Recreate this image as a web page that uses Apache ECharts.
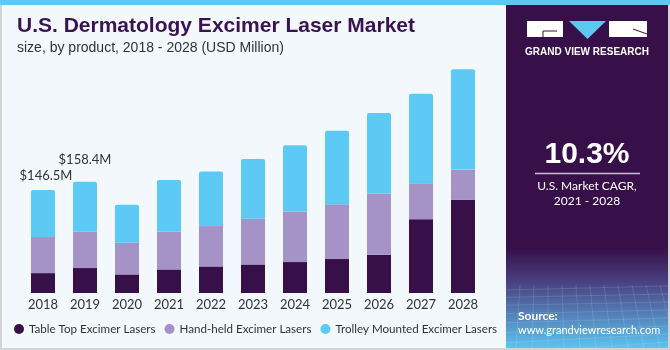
<!DOCTYPE html>
<html>
<head>
<meta charset="utf-8">
<script src="https://cdn.jsdelivr.net/npm/echarts@6/dist/echarts.min.js"></script>
<style>
html, body { margin: 0; padding: 0; background: #f3f8fc; }
#chart { width: 670px; height: 350px; }
</style>
</head>
<body>
<div id="chart"></div>
<script>
// years on the x axis
var years = ['2018', '2019', '2020', '2021', '2022', '2023', '2024', '2025', '2026', '2027', '2028'];
// USD Million
var tableTop = [28.3, 35.5, 26.4, 33.5, 37.8, 40.6, 44.0, 48.3, 54.4, 105.0, 132.5];
var handHeld = [51.3, 52.0, 45.0, 54.0, 57.4, 64.9, 71.9, 78.1, 87.0, 51.1, 43.0];
var trolley = [66.9, 70.9, 54.0, 73.4, 77.5, 85.2, 94.3, 104.5, 114.6, 127.2, 142.6];
// totals written above the first two bars
var totalLabels = ['$146.5M', '$158.4M'];

var seriesNames = ['Table Top Excimer Lasers', 'Hand-held Excimer Lasers', 'Trolley Mounted Excimer Lasers'];
var colors = ['#37104a', '#a592c6', '#5dcaf5'];

var FONT = 'Lato, "Liberation Sans", Arial, sans-serif';
var FONT_W = '"Liberation Sans", Arial, sans-serif';

var myChart = echarts.init(document.getElementById('chart'), null, { renderer: 'canvas' });

// top bar gets the two total labels
var trolleyData = trolley.map(function (v, i) {
	if (i >= totalLabels.length) return v;
	return {
		value: v,
		label: {
			show: true,
			position: 'top',
			formatter: totalLabels[i],
			distance: i === 0 ? 8 : 15,
			offset: [i === 0 ? 3 : 0, 0],
			color: '#333333',
			fontSize: 13,
			fontFamily: FONT
		}
	};
});

// faint grid lines in the bottom of the side panel
var panelGrid = [];
for (var k = 0; k < 12; k++) {
	panelGrid.push({
		type: 'line',
		shape: { x1: 506 + k * 14, y1: 285, x2: 500 + k * 16, y2: 348 },
		style: { stroke: 'rgba(255,255,255,0.12)', lineWidth: 1 }
	});
}
for (var j = 0; j < 8; j++) {
	panelGrid.push({
		type: 'line',
		shape: { x1: 506, y1: 290 + j * 7 + j * j * 0.3, x2: 668, y2: 286 + j * 8 },
		style: { stroke: 'rgba(255,255,255,0.12)', lineWidth: 1 }
	});
}

var option = {
	backgroundColor: '#f3f8fc',
	animation: false,
	title: [{
		text: 'U.S. Dermatology Excimer Laser Market',
		left: 17,
		top: 16,
		padding: 0,
		textStyle: { fontSize: 21, fontWeight: 'bold', color: '#3a1450', fontFamily: FONT_W }
	}, {
		text: 'size, by product, 2018 - 2028 (USD Million)',
		left: 17,
		top: 41,
		padding: 0,
		textStyle: { fontSize: 14, fontWeight: 'normal', color: '#333333', fontFamily: FONT_W }
	}],
	legend: {
		data: seriesNames,
		left: 9,
		top: 318,
		icon: 'circle',
		itemWidth: 10,
		itemHeight: 10,
		itemGap: 9,
		textStyle: { fontSize: 11.6, color: '#333333', fontFamily: FONT }
	},
	grid: { left: 22, right: 186, top: 61, bottom: 57 },
	xAxis: {
		type: 'category',
		data: years,
		axisLine: { show: false },
		axisTick: { show: false },
		axisLabel: { color: '#333333', fontSize: 13, margin: 5, interval: 0, fontFamily: FONT }
	},
	yAxis: { type: 'value', min: 0, max: 330, show: false, splitLine: { show: false } },
	series: [{
		name: seriesNames[0],
		type: 'bar',
		stack: 'total',
		barWidth: 24,
		itemStyle: { color: colors[0] },
		data: tableTop
	}, {
		name: seriesNames[1],
		type: 'bar',
		stack: 'total',
		barWidth: 24,
		itemStyle: { color: colors[1] },
		data: handHeld
	}, {
		name: seriesNames[2],
		type: 'bar',
		stack: 'total',
		barWidth: 24,
		itemStyle: { color: colors[2], borderRadius: [2, 2, 0, 0] },
		data: trolleyData
	}],
	graphic: [
		// outer frame and top stripe
		{ type: 'rect', shape: { x: 1, y: 1, width: 668, height: 348 }, style: { fill: 'none', stroke: '#d3d3d3', lineWidth: 2 }, z: 0 },
		{ type: 'rect', shape: { x: 0, y: 0, width: 670, height: 5 }, style: { fill: '#5dc8f0' } },
		// side panel
		{
			type: 'rect',
			shape: { x: 506, y: 5, width: 162, height: 343 },
			style: {
				fill: new echarts.graphic.LinearGradient(0, 0, 0, 1, [
					{ offset: 0, color: '#37104a' },
					{ offset: 0.71, color: '#37104a' },
					{ offset: 0.81, color: '#4a4282' },
					{ offset: 1, color: '#5cc3f0' }
				])
			}
		}
	].concat(panelGrid).concat([
		// logo
		{ type: 'rect', shape: { x: 527, y: 21, width: 36, height: 16 }, style: { fill: '#ffffff' } },
		{ type: 'polyline', shape: { points: [[543, 37], [543, 31], [557, 31]] }, style: { stroke: '#37104a', lineWidth: 1, fill: 'none' } },
		{ type: 'polygon', shape: { points: [[569, 21], [606, 21], [587.5, 39]] }, style: { fill: '#5dc8f0' } },
		{ type: 'rect', shape: { x: 609, y: 21, width: 38, height: 16 }, style: { fill: '#ffffff' } },
		{ type: 'line', shape: { x1: 633, y1: 29, x2: 647, y2: 34 }, style: { stroke: '#37104a', lineWidth: 1 } },
		{ type: 'text', x: 587, y: 52, style: { text: 'GRAND VIEW RESEARCH', fill: '#ffffff', font: 'bold 10px ' + FONT_W, align: 'center', verticalAlign: 'middle' } },
		// CAGR block
		{ type: 'text', x: 587, y: 155, style: { text: '10.3%', fill: '#ffffff', font: 'bold 30px ' + FONT_W, align: 'center', verticalAlign: 'middle' } },
		{ type: 'line', shape: { x1: 535, y1: 173.5, x2: 640, y2: 173.5 }, style: { stroke: '#c9bdd8', lineWidth: 1.5 } },
		{ type: 'text', x: 587, y: 186, style: { text: 'U.S. Market CAGR,', fill: '#ffffff', font: '12px ' + FONT, align: 'center', verticalAlign: 'middle' } },
		{ type: 'text', x: 587, y: 201, style: { text: '2021 - 2028', fill: '#ffffff', font: '12px ' + FONT, align: 'center', verticalAlign: 'middle' } },
		// source
		{ type: 'text', x: 518, y: 316, style: { text: 'Source:', fill: '#ffffff', font: 'bold 12px ' + FONT, align: 'left', verticalAlign: 'middle' } },
		{ type: 'text', x: 518, y: 330, style: { text: 'www.grandviewresearch.com', fill: '#ffffff', font: '11px ' + FONT, align: 'left', verticalAlign: 'middle' } }
	])
};

myChart.setOption(option);
</script>
</body>
</html>
